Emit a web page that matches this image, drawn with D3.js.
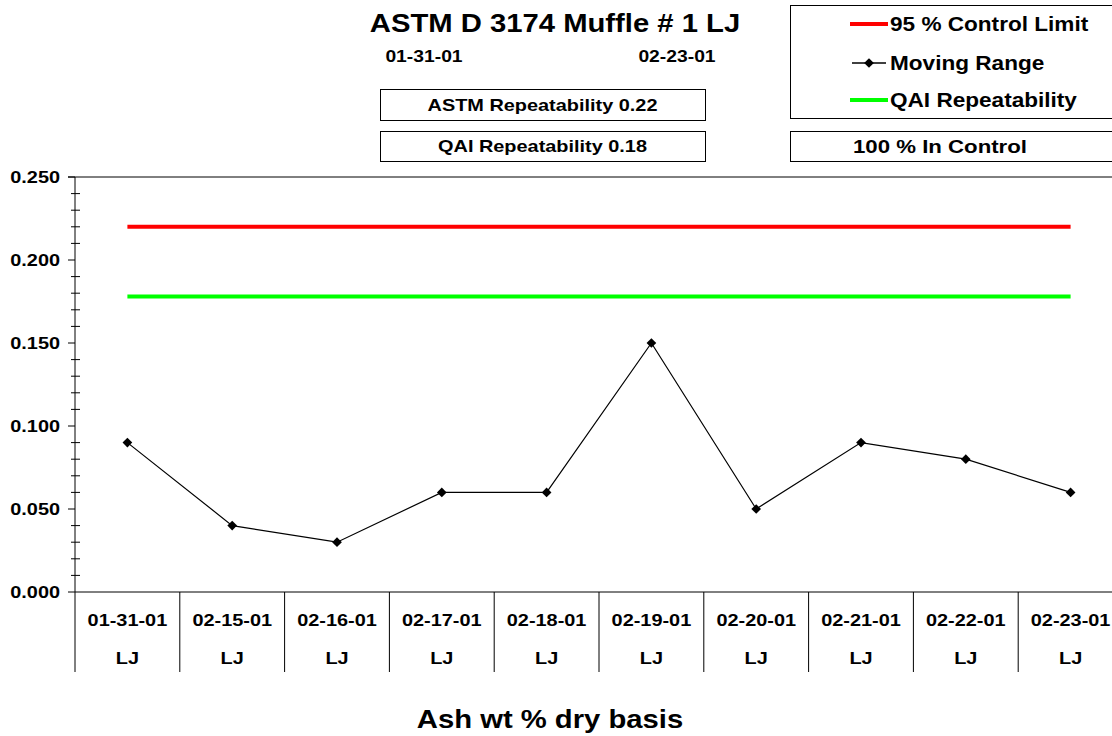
<!DOCTYPE html>
<html><head><meta charset="utf-8">
<script src="https://cdn.jsdelivr.net/npm/d3@7"></script>
<style>body{margin:0;background:#fff}svg{display:block;font-family:"Liberation Sans",Arial,sans-serif;font-weight:bold}</style>
</head><body>
<script>
const categories = ["01-31-01","02-15-01","02-16-01","02-17-01","02-18-01","02-19-01","02-20-01","02-21-01","02-22-01","02-23-01"];
const subLabels = ["LJ","LJ","LJ","LJ","LJ","LJ","LJ","LJ","LJ","LJ"];
const movingRange = [0.09,0.04,0.03,0.06,0.06,0.15,0.05,0.09,0.08,0.06];
const controlLimit = 0.22;
const qaiRepeat = 0.178;
const yTicks = [0,0.05,0.1,0.15,0.2,0.25];

const W=1112,H=736, SX=1.17;
const svg=d3.select("body").append("svg").attr("width",W).attr("height",H);
const L=75, T=177, B=592, R=75+104.8*10;
const x=d3.scaleBand().domain(categories).range([L,R]);
const y=d3.scaleLinear().domain([0,0.25]).range([B,T]);
const cx=d=>x(d)+x.bandwidth()/2;

function txt(g,px,py,anchor,size,s){
  return g.append("text").attr("transform",`translate(${px},${py}) scale(${SX},1)`)
    .attr("text-anchor",anchor).attr("font-size",size).attr("fill","#000").text(s);
}

// plot top border
svg.append("line").attr("x1",68).attr("x2",R).attr("y1",T).attr("y2",T).attr("stroke","#000");
// y axis
svg.append("line").attr("x1",L).attr("x2",L).attr("y1",T).attr("y2",B).attr("stroke","#000");
yTicks.forEach(v=>{
  svg.append("line").attr("x1",L-7).attr("x2",L).attr("y1",y(v)).attr("y2",y(v)).attr("stroke","#000");
  txt(svg,60,y(v)+6,"end",17,d3.format(".3f")(v));
});
const minor=d3.range(0,26).map(i=>i*0.01).filter(v=>Math.round(v*100)%5!==0);
svg.append("g").selectAll("line").data(minor).join("line")
  .attr("x1",L-4).attr("x2",L+5).attr("y1",d=>y(d)).attr("y2",d=>y(d)).attr("stroke","#000");

// x axis
svg.append("line").attr("x1",L).attr("x2",R).attr("y1",B).attr("y2",B).attr("stroke","#000");
const bounds=categories.map(c=>x(c)).concat([R]);
svg.append("g").selectAll("line").data(bounds).join("line")
  .attr("x1",d=>d).attr("x2",d=>d).attr("y1",B).attr("y2",672).attr("stroke","#000");
categories.forEach((c,i)=>{
  txt(svg,cx(c),626,"middle",17,c);
  txt(svg,cx(c),664,"middle",17,subLabels[i]);
});

// horizontal lines
const first=cx(categories[0]), last=cx(categories[categories.length-1]);
svg.append("line").attr("x1",first).attr("x2",last).attr("y1",y(controlLimit)).attr("y2",y(controlLimit)).attr("stroke","#ff0000").attr("stroke-width",4);
svg.append("line").attr("x1",first).attr("x2",last).attr("y1",y(qaiRepeat)).attr("y2",y(qaiRepeat)).attr("stroke","#00ff00").attr("stroke-width",4);

// moving range
const line=d3.line().x((d,i)=>cx(categories[i])).y(d=>y(d));
svg.append("path").datum(movingRange).attr("d",line).attr("fill","none").attr("stroke","#000").attr("stroke-width",1.2);
const diamond=d3.symbol().type(d3.symbolDiamond2).size(60);
svg.append("g").selectAll("path").data(movingRange).join("path")
  .attr("d",diamond).attr("transform",(d,i)=>`translate(${cx(categories[i])},${y(d)})`).attr("fill","#000");

// titles
txt(svg,555,32,"middle",25,"ASTM D 3174 Muffle # 1 LJ");
txt(svg,424,62,"middle",16.5,categories[0]);
txt(svg,677,62,"middle",16.5,categories[categories.length-1]);
txt(svg,550,728,"middle",25,"Ash wt % dry basis");

// boxes
function box(x0,y0,w,h,s,size){
  svg.append("rect").attr("x",x0+0.5).attr("y",y0+0.5).attr("width",w).attr("height",h).attr("fill","#fff").attr("stroke","#000");
  if(s) txt(svg,x0+w/2,y0+h/2+6,"middle",size,s);
}
box(380,89,325,31,"ASTM Repeatability "+controlLimit.toFixed(2),17);
box(380,131,325,30,"QAI Repeatability 0.18",17);
svg.append("rect").attr("x",790.5).attr("y",131.5).attr("width",330).attr("height",30).attr("fill","#fff").attr("stroke","#000");
txt(svg,940,153,"middle",19,"100 % In Control");
svg.append("rect").attr("x",790.5).attr("y",5.5).attr("width",330).attr("height",113).attr("fill","#fff").attr("stroke","#000");

// legend
const leg=[{t:"95 % Control Limit",c:"#ff0000",w:4,y:24,m:false},{t:"Moving Range",c:"#000",w:1.4,y:63,m:true},{t:"QAI Repeatability",c:"#00ff00",w:4,y:100,m:false}];
leg.forEach(e=>{
  svg.append("line").attr("x1",e.m?852:850).attr("x2",e.m?886:888).attr("y1",e.y).attr("y2",e.y).attr("stroke",e.c).attr("stroke-width",e.w);
  if(e.m) svg.append("path").attr("d",diamond).attr("transform",`translate(869,${e.y})`).attr("fill","#000");
  txt(svg,890,e.y+7,"start",19.3,e.t);
});
</script>
</body></html>
